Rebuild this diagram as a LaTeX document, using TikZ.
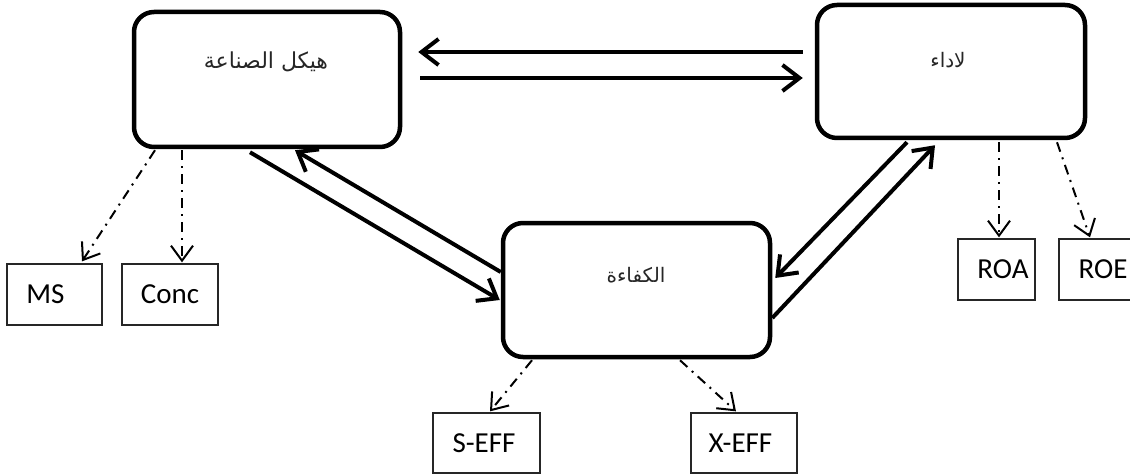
\documentclass[tikz,border=0pt]{standalone}
\usepackage{fontspec}
\setmainfont{Carlito}
\newfontfamily\arabicfont[Script=Arabic]{DejaVu Sans}
\TeXXeTstate=1
\usetikzlibrary{arrows.meta,calc}
\begin{document}
\begin{tikzpicture}[x=1pt,y=-1pt,
  bigbox/.style={draw, line width=4.5pt, rounded corners=20pt, inner sep=0pt},
  smallbox/.style={draw=black!85, line width=1.3pt, inner sep=0pt,
    minimum height=61pt, font=\fontsize{29}{31}\selectfont},
  artext/.style={font=\arabicfont\fontsize{20}{22}\selectfont, text=black!85},
  flow/.style={line width=4pt,
    -{Straight Barb[length=17pt,width=26pt,line width=4pt]}},
  link/.style={line width=2pt, dash pattern=on 10pt off 6pt on 2pt off 6pt,
    -{Straight Barb[length=15pt,width=22pt,line width=2pt]}}]
\useasboundingbox (0,0) rectangle (1130,476);

% main blocks
\node[bigbox, minimum width=266pt, minimum height=135pt] (ind) at (267,79.5) {};
\node[artext, font=\arabicfont\fontsize{22}{24}\selectfont] (indt) at (266,62) {\beginR هيكل الصناعة\endR};
\node[bigbox, minimum width=268pt, minimum height=133pt] (perf) at (951,71.5) {};
\node[artext] (perft) at (948,60) {\beginR لاداء\endR};
\node[bigbox, minimum width=267pt, minimum height=134pt] (eff) at (636.5,290) {};
\node[artext] (efft) at (636,275) {\beginR الكفاءة\endR};

% indicator boxes
\node[smallbox, minimum width=95pt] (ms) at (54.5,294.5) {\hspace*{-18pt}MS};
\node[smallbox, minimum width=96pt] (conc) at (170,294.5) {Conc};
\node[smallbox, minimum width=77pt] (roa) at (996.5,269.5) {\hspace*{13pt}ROA};
\node[smallbox, minimum width=81pt] (roe) at (1099.5,269.5) {\hspace*{7pt}ROE};
\node[smallbox, minimum width=107pt, minimum height=60pt] (seff) at (486.5,443) {\hspace*{-5pt}S-EFF};
\node[smallbox, minimum width=106pt, minimum height=60pt] (xeff) at (744,443) {\hspace*{-7pt}X-EFF};

% two-way links between the main blocks
\draw[flow] ($(perf.west)+(-12,-19.5)$) -- ($(ind.east)+(16,-27.5)$);
\draw[flow] ($(ind.east)+(18,-1.5)$) -- ($(perf.west)+(-12,6.5)$);
\draw[flow] ($(ind.south)+(-17,3)$) -- ($(eff.west)+(-1,10)$);
\draw[flow] ($(eff.west)+(0,-18)$) -- ($(ind.south)+(28,1)$);
\draw[flow] ($(perf.south)+(-44,2)$) -- ($(eff.east)+(3,-12)$);
\draw[flow] ($(eff.east)+(0,28)$) -- ($(perf.south)+(-16,5)$);

% measures of each block
\draw[link] ($(ind.south)+(-112,1)$) -- ($(ms.north)+(27.5,-2)$);
\draw[link] ($(ind.south)+(-85,1)$) -- ($(conc.north)+(12,-1)$);
\draw[link] ($(perf.south)+(48,2)$) -- ($(roa.north)+(2.5,-1)$);
\draw[link] ($(perf.south)+(106,2)$) -- ($(roe.north)+(-9.5,-1)$);
\draw[link] ($(eff.south)+(-104.5,1)$) -- ($(seff.north)+(3.5,-1)$);
\draw[link] ($(eff.south)+(43.5,1)$) -- ($(xeff.north)+(-8,-1)$);
\end{tikzpicture}
\end{document}
